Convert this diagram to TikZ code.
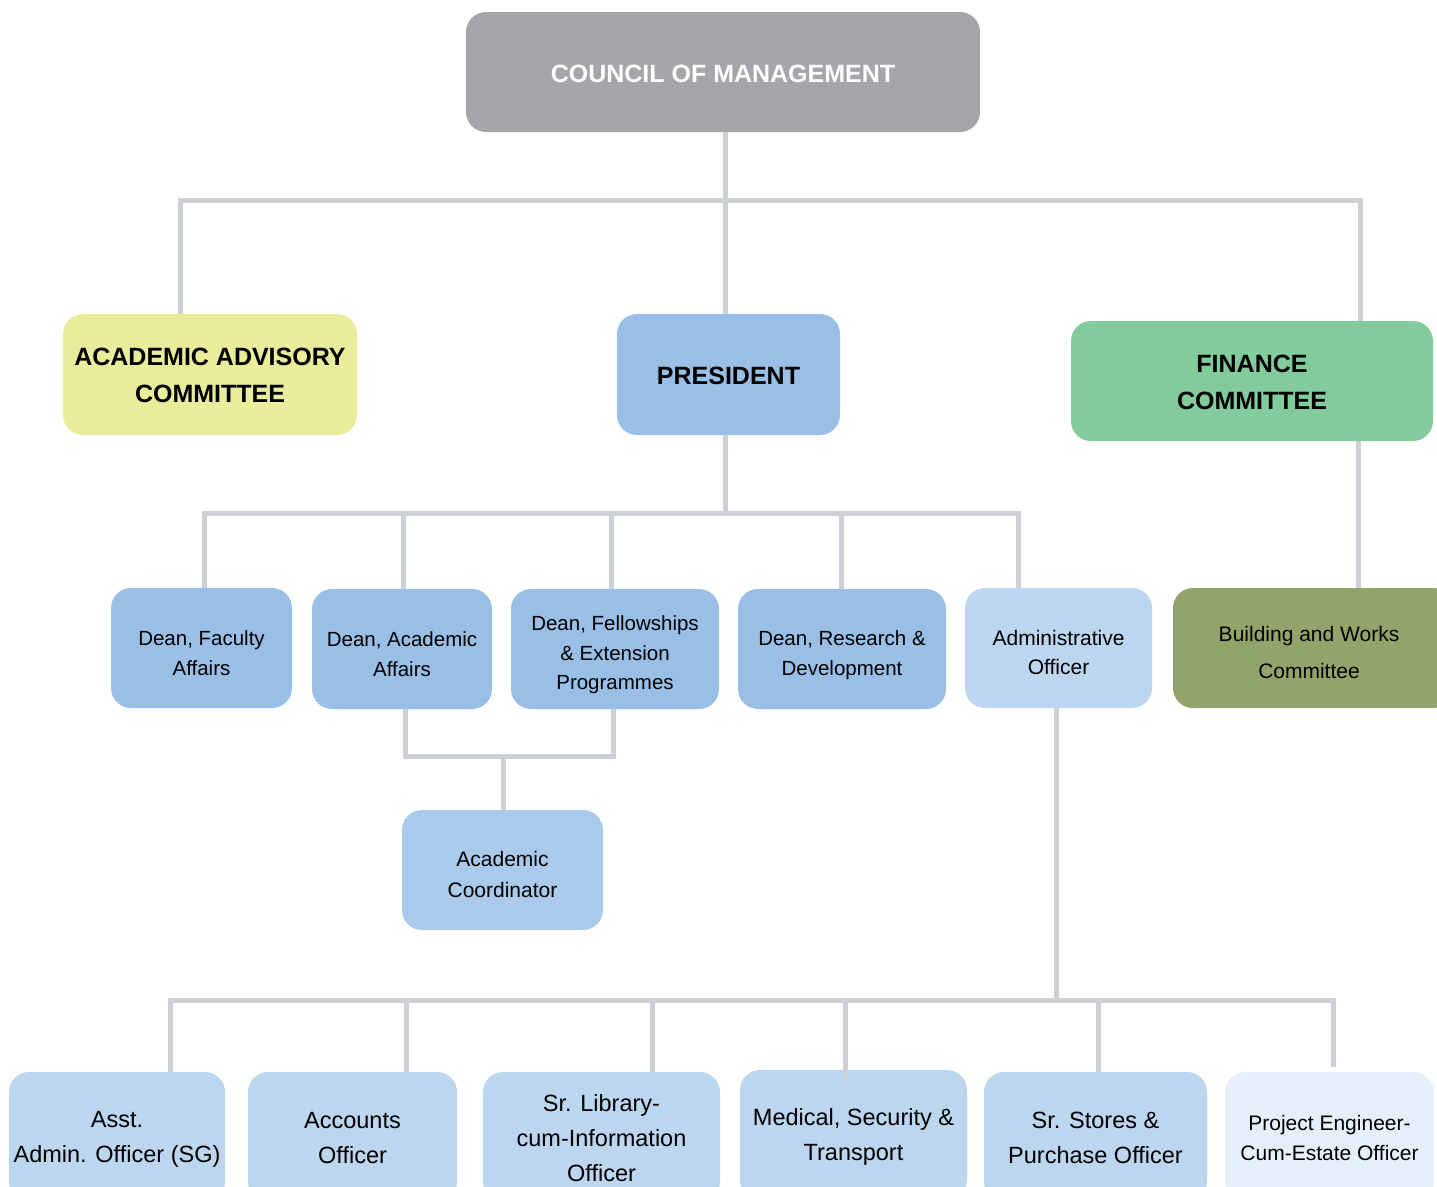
\documentclass[tikz,border=0pt]{standalone}
\usepackage{fontspec}
\setmainfont{Liberation Sans}
\definecolor{cgray}{HTML}{A5A6AA}
\definecolor{cyel}{HTML}{E9EC9B}
\definecolor{cblue}{HTML}{9ABFE6}
\definecolor{cgreen}{HTML}{82CB9C}
\definecolor{clight}{HTML}{BCD6EF}
\definecolor{colive}{HTML}{92A469}
\definecolor{cacad}{HTML}{A9CAEA}
\definecolor{cpale}{HTML}{E7F0FA}
\definecolor{cline}{HTML}{CDD0D4}
\tikzset{
  box/.style={rounded corners=20pt, inner sep=0pt},
  lab/.style={align=center, text=black, inner sep=0pt},
  topfont/.style={font=\fontsize{25}{37}\selectfont\bfseries},
  deanfont/.style={font=\fontsize{20.5}{29.5}\selectfont},
  botfont/.style={font=\fontsize{23.5}{35}\selectfont},
  smallfont/.style={font=\fontsize{21}{30}\selectfont},
  conn/.style={draw=cline, line width=5pt, line cap=butt},
  bus/.style={draw=cline, line width=5pt, line cap=rect},
}
\begin{document}
\begin{tikzpicture}[x=1pt,y=-1pt]
\useasboundingbox (0,0) rectangle (1437,1186);
\clip (0,0) rectangle (1437,1186);
% junction coordinates
\coordinate (tL) at (180,200);
\coordinate (tM) at (725,200);
\coordinate (tR) at (1360,200);
\coordinate (pL) at (204,513);
\coordinate (pM) at (725,513);
\coordinate (pR) at (1018,513);
\coordinate (aL) at (405,756);
\coordinate (aR) at (613,756);
\coordinate (aM) at (503,756);
\coordinate (bL) at (170,1000);
\coordinate (bM) at (1056,1000);
\coordinate (bR) at (1333,1000);

% nodes
\node[box, fill=cgray, minimum width=514, minimum height=120,
  label={[lab, topfont, text=white, yshift=-2pt]center:{COUNCIL OF MANAGEMENT}}] (council) at (723,72) {};
\node[box, fill=cyel, minimum width=294, minimum height=121,
  label={[lab, topfont, yshift=-1pt]center:{ACADEMIC ADVISORY\\COMMITTEE}}] (aac) at (210,374.5) {};
\node[box, fill=cblue, minimum width=223, minimum height=121,
  label={[lab, topfont, yshift=-1pt]center:{PRESIDENT}}] (pres) at (728.5,374.5) {};
\node[box, fill=cgreen, minimum width=362, minimum height=120,
  label={[lab, topfont, yshift=-1pt]center:{FINANCE\\COMMITTEE}}] (fin) at (1252,381) {};

\node[box, fill=cblue, minimum width=181, minimum height=120,
  label={[lab, deanfont, yshift=-5pt]center:{Dean, Faculty\\Affairs}}] (dfa) at (201.5,648) {};
\node[box, fill=cblue, minimum width=180, minimum height=120,
  label={[lab, deanfont, yshift=-5pt]center:{Dean, Academic\\Affairs}}] (daa) at (402,649) {};
\node[box, fill=cblue, minimum width=208, minimum height=120,
  label={[lab, deanfont, yshift=-6pt]center:{Dean, Fellowships\\\& Extension\\Programmes}}] (dfe) at (615,649) {};
\node[box, fill=cblue, minimum width=208, minimum height=120,
  label={[lab, deanfont, yshift=-6pt]center:{Dean, Research \&\\Development}}] (drd) at (842,649) {};
\node[box, fill=clight, minimum width=187, minimum height=120,
  label={[lab, font=\fontsize{21}{29}\selectfont, yshift=-4pt]center:{Administrative\\Officer}}] (ao) at (1058.5,648) {};
\node[box, fill=colive, minimum width=280, minimum height=120,
  label={[lab, font=\fontsize{21}{37}\selectfont, yshift=-4pt, xshift=-4pt]center:{Building and Works\\Committee}}] (bw) at (1313,648) {};

\node[box, fill=cacad, minimum width=201, minimum height=120,
  label={[lab, font=\fontsize{21}{31}\selectfont, yshift=-4pt]center:{Academic\\Coordinator}}] (ac) at (502.5,870) {};

\node[box, fill=clight, minimum width=216, minimum height=130,
  label={[lab, botfont, yshift=-2pt]center:{Asst.\\Admin. Officer (SG)}}] (asst) at (117,1137) {};
\node[box, fill=clight, minimum width=209, minimum height=130,
  label={[lab, botfont, yshift=-1pt]center:{Accounts\\Officer}}] (acc) at (352.5,1137) {};
\node[box, fill=clight, minimum width=237, minimum height=130,
  label={[lab, botfont, yshift=-1pt]center:{Sr. Library-\\cum-Information\\Officer}}] (lib) at (601.5,1137) {};
\node[box, fill=clight, minimum width=227, minimum height=130,
  label={[lab, botfont, yshift=-2pt]center:{Medical, Security \&\\Transport}}] (med) at (853.5,1135) {};
\node[box, fill=clight, minimum width=223, minimum height=130,
  label={[lab, botfont, yshift=-1pt]center:{Sr. Stores \&\\Purchase Officer}}] (sto) at (1095.5,1137) {};
\node[box, fill=cpale, minimum width=209, minimum height=130,
  label={[lab, smallfont, yshift=-1pt]center:{Project Engineer-\\Cum-Estate Officer}}] (pe) at (1329.5,1137) {};

% connectors
\draw[conn] (council.south -| tM) -- (tM);
\draw[bus] (tL) -- (tR);
\draw[conn] (tL) -- (tL |- aac.north);
\draw[conn] (tM) -- (tM |- pres.north);
\draw[conn] (tR) -- (tR |- fin.north);

\draw[conn] (pres.south -| pM) -- (pM);
\draw[bus] (pL) -- (pR);
\draw[conn] (pL) -- (pL |- dfa.north);
\draw[conn] ([xshift=1pt]daa.north |- pL) -- ([xshift=1pt]daa.north);
\draw[conn] ([xshift=-4pt]dfe.north |- pL) -- ([xshift=-4pt]dfe.north);
\draw[conn] ([xshift=-1pt]drd.north |- pL) -- ([xshift=-1pt]drd.north);
\draw[conn] (pR) -- (pR |- ao.north);

\draw[conn] (fin.south -| 1358,0) -- (bw.north -| 1358,0);

\draw[conn] (aL |- daa.south) -- (aL);
\draw[conn] (aR |- dfe.south) -- (aR);
\draw[bus] (aL) -- (aR);
\draw[conn] (aM) -- (aM |- ac.north);

\draw[conn] (bM |- ao.south) -- (bM);
\draw[bus] (bL) -- (bR);
\draw[conn] (bL) -- (bL |- asst.north);
\draw[conn] (acc.north -| 406,0) ++(0,-72) -- (acc.north -| 406,0);
\draw[conn] (lib.north -| 652,0) ++(0,-72) -- (lib.north -| 652,0);
\draw[conn] (845,1000) -- ([yshift=-10pt]med.north -| 845,0);
\draw[conn] (sto.north -| 1098,0) ++(0,-72) -- (sto.north -| 1098,0);
\draw[conn] (bR) -- ([yshift=5pt]pe.north -| bR);
\end{tikzpicture}
\end{document}
